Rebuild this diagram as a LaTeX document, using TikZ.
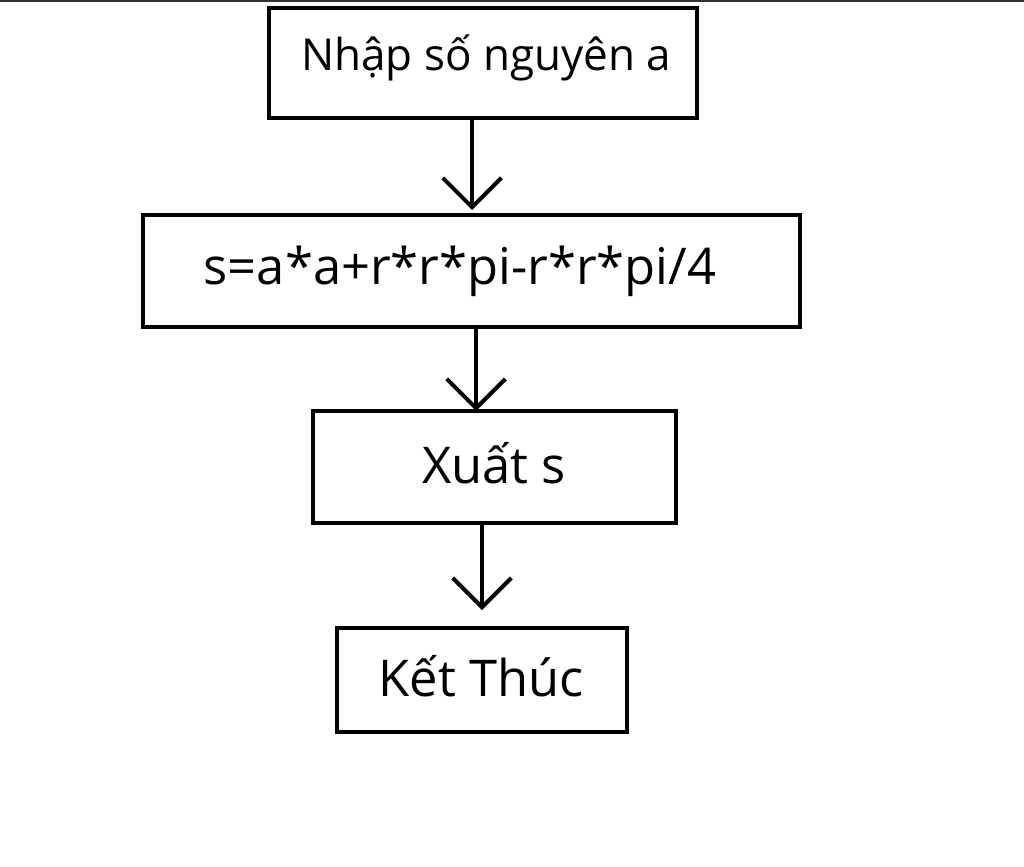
\documentclass[tikz,border=0pt]{standalone}
\usepackage{fontspec}
\setmainfont{Open Sans}
\usetikzlibrary{arrows.meta}
\begin{document}
\begin{tikzpicture}[x=0.75pt,y=-0.75pt,
  box/.style={draw,line width=3pt,inner sep=0pt},
  arr/.style={line width=3pt,-{Straight Barb[length=22pt,width=44pt,line width=3pt]}}]
\useasboundingbox (0,0) rectangle (1024,867);
\fill[white] (0,0) rectangle (1024,867);
\draw[line width=2pt,black!80] (0,1) -- (1024,1);
\node[box,minimum width=321pt,minimum height=82pt] (n1) at (483,63) {};
\node[font=\fontsize{33}{40}\selectfont] at (486,58) {Nhập số nguyên a};
\node[box,minimum width=493pt,minimum height=84pt] (n2) at (471.5,271) {};
\node[font=\fontsize{38}{46}\selectfont] at (460,271) {s=a*a+r*r*pi-r*r*pi/4};
\node[box,minimum width=272pt,minimum height=84pt] (n3) at (494.5,467) {};
\node[font=\fontsize{38}{46}\selectfont] at (494,463) {Xuất s};
\node[box,minimum width=217pt,minimum height=78pt] (n4) at (482,680) {};
\node[font=\fontsize{38}{46}\selectfont] at (481,676) {Kết Thúc};
\coordinate (e1) at (472,210);
\coordinate (e2) at (476,411);
\coordinate (e3) at (482,610);
\draw[arr] (n1.south -| e1) -- (e1);
\draw[arr] (n2.south -| e2) -- (e2);
\draw[arr] (n3.south -| e3) -- (e3);
\end{tikzpicture}
\end{document}
